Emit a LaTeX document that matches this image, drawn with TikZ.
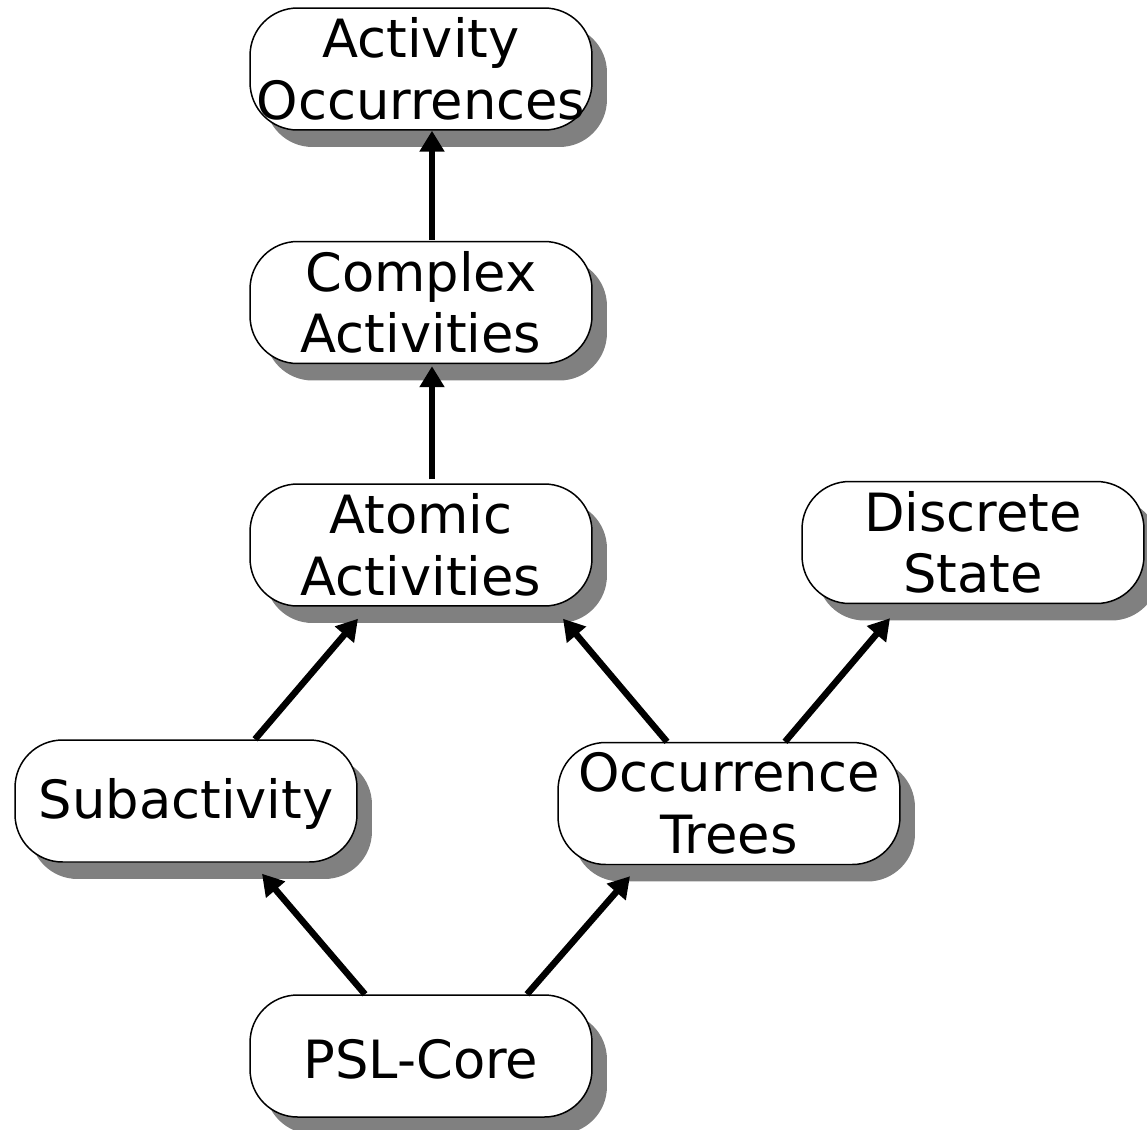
\documentclass[tikz,border=0pt]{standalone}
\usepackage{fontspec}
\setmainfont{DejaVu Sans}
\usetikzlibrary{shadows,arrows.meta}
\begin{document}
\begin{tikzpicture}[x=0.02cm,y=-0.02cm,
  box/.style={draw=black, line width=0.03cm, fill=white, rounded corners=0.95cm,
    minimum width=6.84cm, minimum height=2.44cm, inner sep=0pt, align=center,
    font=\fontsize{30}{35}\selectfont,
    execute at begin node={\rule{0pt}{26.5pt}},
    drop shadow={shadow xshift=0.3cm, shadow yshift=-0.34cm, fill=black!50, opacity=1}},
  link/.style={line width=0.13cm, -{Triangle[length=0.42cm,width=0.48cm]}}]
\useasboundingbox (0,0) rectangle (1147,1130);

\node[box] (ao) at (421,69)    {Activity\\Occurrences};
\node[box] (ca) at (421,302.5) {Complex\\Activities};
\node[box] (aa) at (421,545)   {Atomic\\Activities};
\node[box] (ds) at (973,542.5) {Discrete\\State};
\node[box] (sa) at (186,801)   {Subactivity};
\node[box] (ot) at (729,803.5) {Occurrence\\Trees};
\node[box] (pc) at (421,1056)  {PSL-Core};

\draw[link] ([shift={(11,-1)}]ca.north) -- ([shift={(11,0)}]ao.south);
\draw[link] ([shift={(11,-4)}]aa.north) -- ([shift={(11,2)}]ca.south);
\draw[link] ([shift={(69,0)}]sa.north)  -- ([shift={(-63,12)}]aa.south);
\draw[link] ([shift={(-62,0)}]ot.north) -- ([shift={(142,12)}]aa.south);
\draw[link] ([shift={(56,0)}]ot.north)  -- ([shift={(-83,14)}]ds.south);
\draw[link] ([shift={(-56,0)}]pc.north) -- ([shift={(76,11)}]sa.south);
\draw[link] ([shift={(106,0)}]pc.north) -- ([shift={(-99,11)}]ot.south);
\end{tikzpicture}
\end{document}
